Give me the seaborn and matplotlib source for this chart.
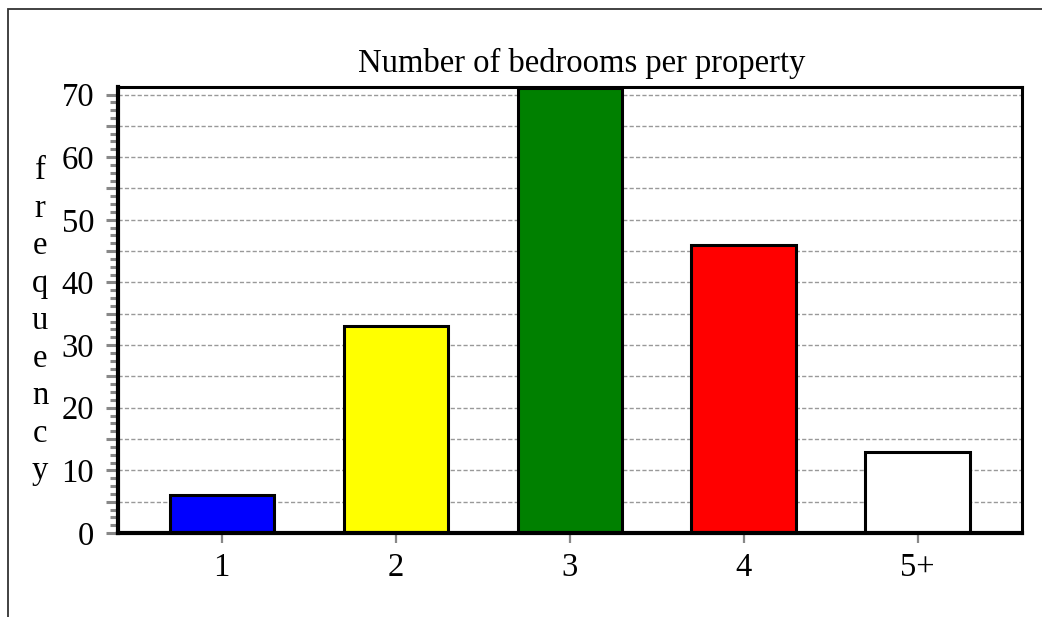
import matplotlib
matplotlib.use("Agg")
import matplotlib.pyplot as plt
import seaborn as sns
import pandas as pd
from matplotlib.ticker import MultipleLocator, FuncFormatter
from matplotlib.patches import Rectangle

# Data
bedrooms = ["1", "2", "3", "4", "5+"]
frequency = [6, 33, 71, 46, 13]
bar_colors = ["#0000FF", "#FFFF00", "#008000", "#FF0000", "#FFFFFF"]
y_tick_values = [0, 10, 20, 30, 40, 50, 60, 70]

sns.set_theme(style="white")
plt.rcParams["font.family"] = ["Liberation Serif", "DejaVu Serif"]

W, H = 1042, 617
fig = plt.figure(figsize=(W / 100, H / 100), dpi=100)
ax = fig.add_axes([117.7 / W, 1 - 533 / H, (1021.7 - 117.7) / W, (533 - 87) / H])

df = pd.DataFrame({"bedrooms": bedrooms, "frequency": frequency})
sns.barplot(data=df, x="bedrooms", y="frequency", hue="bedrooms",
            palette=bar_colors, legend=False, width=0.6,
            edgecolor="black", linewidth=2.2, saturation=1, ax=ax, zorder=3)

ax.set_xlim(-0.598, 4.598)
ax.set_ylim(0, 71.2)

# y axis: major ticks every 5 (labelled at tens), minor every 1.25
ax.yaxis.set_major_locator(MultipleLocator(5))
ax.yaxis.set_minor_locator(MultipleLocator(1.25))
ax.yaxis.set_major_formatter(FuncFormatter(
    lambda v, p: f"{int(round(v))}" if int(round(v)) in y_tick_values else ""))
ax.tick_params(axis="y", which="major", length=9, width=2.2, color="#888888",
               labelsize=23.5, pad=8, left=True)
ax.tick_params(axis="y", which="minor", length=6, width=2.2, color="#888888", left=True)
ax.tick_params(axis="x", which="major", length=7, width=1.6, color="#888888",
               labelsize=23.5, pad=7, bottom=True, direction="out")
for lab in ax.get_xticklabels() + ax.get_yticklabels():
    lab.set_color("black")

ax.yaxis.grid(True, which="major", linestyle=(0, (3, 1.6)), color="#999999", linewidth=1.0, zorder=1)
ax.xaxis.grid(False)
ax.set_axisbelow(True)

for side, lw in [("left", 3.0), ("bottom", 3.0), ("top", 2.2), ("right", 2.2)]:
    ax.spines[side].set_visible(True)
    ax.spines[side].set_color("black")
    ax.spines[side].set_linewidth(lw)
    ax.spines[side].set_zorder(5)

ax.set_xlabel("")
ax.set_ylabel("")
ax.set_title("Number of bedrooms per property", fontsize=23.5, color="black",
             x=(582 - 117.7) / 904, pad=11)

# Vertically stacked axis label
fig.text(40 / W, 1 - 321 / H, "\n".join("frequency"), fontsize=23.5,
         ha="center", va="center", linespacing=1.30, color="black")

# Outer frame
fig.add_artist(Rectangle((8 / W, -0.2), 1.2, 1.2 - 9 / H,
                         transform=fig.transFigure, fill=False,
                         edgecolor="#333333", linewidth=1.3))

fig.savefig("out.png", dpi=100, facecolor="white")
